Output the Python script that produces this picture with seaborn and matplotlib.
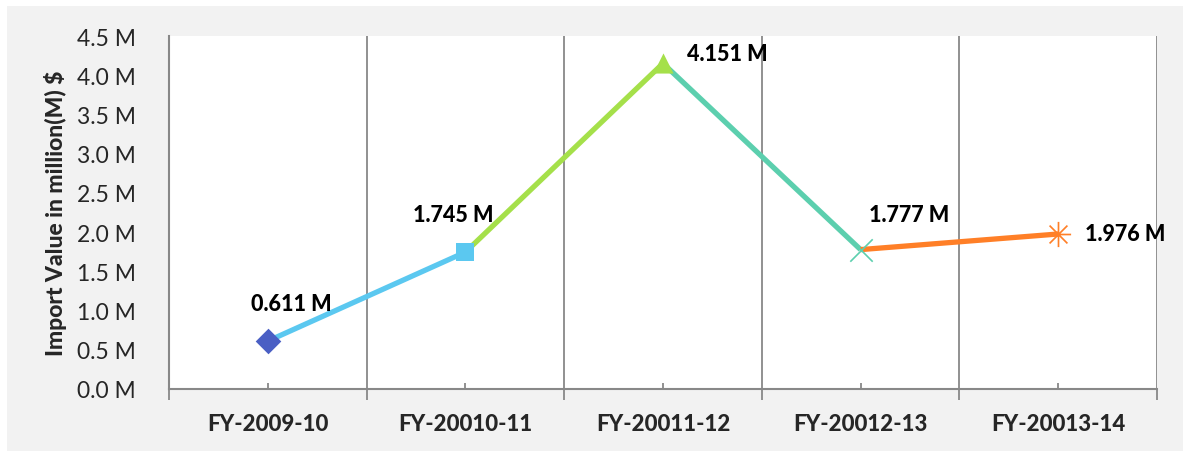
import matplotlib
matplotlib.use("Agg")
import matplotlib.pyplot as plt
import seaborn as sns
import pandas as pd
from matplotlib.patches import Rectangle
from matplotlib.ticker import FixedLocator, FuncFormatter

# Import values by fiscal year (million $)
years = ["FY-2009-10", "FY-20010-11", "FY-20011-12", "FY-20012-13", "FY-20013-14"]
values = [0.611, 1.745, 4.151, 1.777, 1.976]
labels = ["0.611 M", "1.745 M", "4.151 M", "1.777 M", "1.976 M"]

point_colors = ["#4a5fc4", "#5bc8f0", "#a5e04a", "#5ccfae", "#ff7f27"]
point_markers = ["D", "s", "^", "x", "$\u2733$"]
label_offsets = [(17, 27), (-9, 27), (46, 7), (35, 25), (48, 0)]

sns.set_theme(style="white")
plt.rcParams["font.family"] = ["Lato", "DejaVu Sans"]
HEAVY = 900

fig = plt.figure(figsize=(11.83, 4.52), dpi=100, facecolor="white")
fig.patches.append(Rectangle((7 / 1183, 0), 1, 445 / 452,
                             transform=fig.transFigure, facecolor="#f2f2f2",
                             edgecolor="none", zorder=-10))
ax = fig.add_axes([169 / 1183, 62 / 452, (1157 - 169) / 1183, (390 - 37) / 452])
ax.set_facecolor("white")

df = pd.DataFrame({"pos": range(len(years)), "value": values, "year": years})

# Each segment takes the colour of the point it leads to
for i in range(1, len(values)):
    seg = df.iloc[i - 1:i + 1]
    sns.lineplot(data=seg, x="pos", y="value", color=point_colors[i],
                 linewidth=3.8, ax=ax, zorder=3, solid_capstyle="butt")

for i, row in df.iterrows():
    m = point_markers[i]
    size = 170 if m in ("D", "s") else 210
    if m == "x":
        sns.scatterplot(x=[row["pos"]], y=[row["value"]], marker="x", s=260,
                        color=point_colors[i], linewidth=1.2, ax=ax, zorder=4)
    elif m.startswith("$"):
        sns.scatterplot(x=[row["pos"]], y=[row["value"]], marker=m, s=330,
                        color=point_colors[i], linewidth=0, ax=ax, zorder=4)
    else:
        sns.scatterplot(x=[row["pos"]], y=[row["value"]], marker=m, s=size,
                        color=point_colors[i], edgecolor=point_colors[i],
                        linewidth=0, ax=ax, zorder=4)
    ax.annotate(labels[i], (row["pos"], row["value"]), xytext=label_offsets[i],
                textcoords="offset points", ha="center", va="center",
                fontsize=15.5, fontweight=HEAVY, color="black", zorder=5)

ax.set_xlim(-0.5, len(years) - 0.5)
ax.set_ylim(0, 4.5)

# Category ticks: boundary ticks outward, centre ticks inward
ax.xaxis.set_major_locator(FixedLocator([i + 0.5 for i in range(-1, len(years))]))
ax.xaxis.set_minor_locator(FixedLocator(list(range(len(years)))))
ax.xaxis.set_major_formatter(FuncFormatter(lambda v, p: ""))
ax.xaxis.set_minor_formatter(FuncFormatter(
    lambda v, p: years[int(round(v))] if 0 <= int(round(v)) < len(years) else ""))
ax.tick_params(axis="x", which="major", direction="out", length=8, width=1.3,
               color="#888888", bottom=True)
ax.tick_params(axis="x", which="minor", direction="in", length=4, width=1.3,
               color="#888888", bottom=True, labelsize=16, pad=17)
for t in ax.xaxis.get_minorticklabels():
    t.set_fontweight(HEAVY)

ax.set_yticks([i * 0.5 for i in range(10)])
ax.yaxis.set_major_formatter(FuncFormatter(lambda v, p: f"{v:.1f} M"))
ax.tick_params(axis="y", left=False, labelsize=16.5, pad=18)

ax.grid(False)
for x in [i + 0.5 for i in range(len(years))]:
    ax.axvline(x, color="#888888", linewidth=1.3, zorder=1)

for side in ("top", "right"):
    ax.spines[side].set_visible(False)
for side in ("left", "bottom"):
    ax.spines[side].set_color("#888888")
    ax.spines[side].set_linewidth(1.5)

ax.set_xlabel("")
ax.set_ylabel("Import Value in million(M) $", fontsize=16.5, fontweight=HEAVY,
              labelpad=7)

fig.savefig("out.png", dpi=100, facecolor=fig.get_facecolor())
